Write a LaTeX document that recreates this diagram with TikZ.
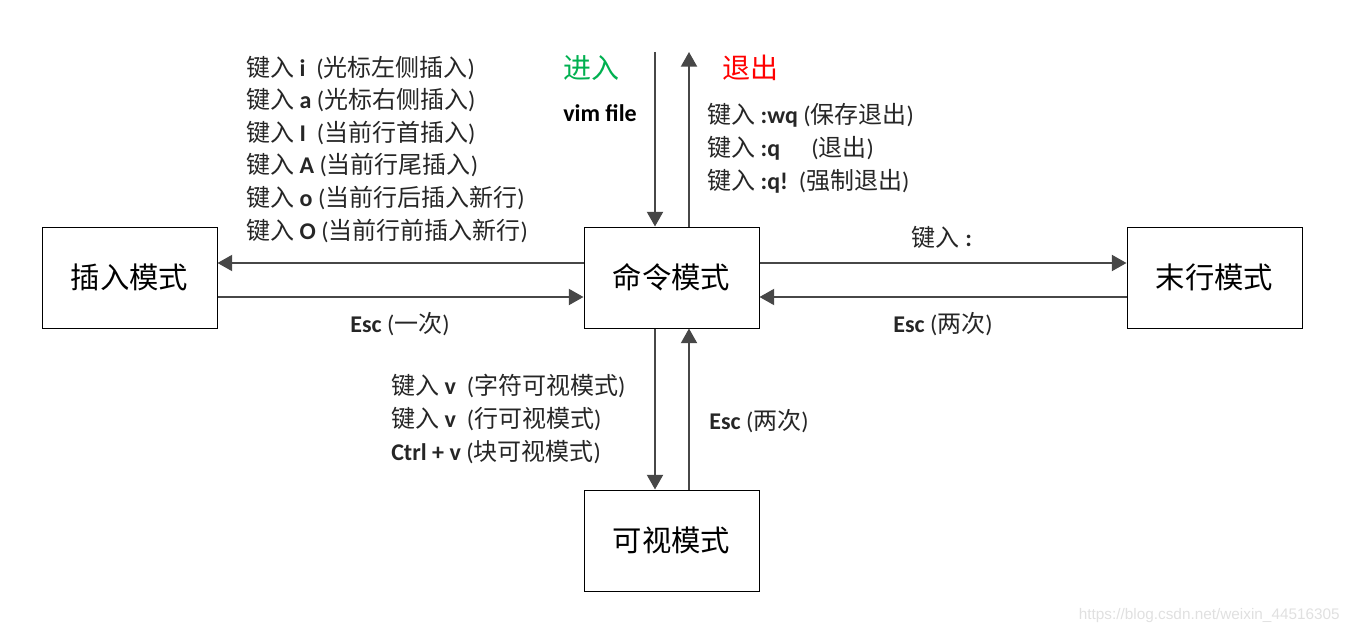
\documentclass[tikz,border=0pt]{standalone}
\usepackage{fontspec}
\setmainfont{Carlito}
\newfontfamily\cjk{Noto Sans CJK SC}
\newfontfamily\wmfont{Liberation Sans}
\usetikzlibrary{arrows.meta,calc}
\newcommand\zh[1]{{\cjk #1}}
\definecolor{arrowgray}{HTML}{474747}
\definecolor{entergreen}{HTML}{00B050}
\definecolor{exitred}{HTML}{FF0000}
\begin{document}
\begin{tikzpicture}[x=0.75pt,y=-0.75pt,
  modebox/.style={draw=black,line width=0.75pt,minimum width=131.25pt,minimum height=75.75pt,inner sep=0pt,font=\fontsize{22}{26}\selectfont\cjk},
  conn/.style={draw=arrowgray,line width=1.5pt,-{Triangle[length=11pt,width=12pt]}},
  lbl/.style={font=\fontsize{18}{22}\selectfont,inner sep=0pt,anchor=west,text=black!85},
  clbl/.style={font=\fontsize{18}{22}\selectfont,inner sep=0pt,text=black!85},
  big/.style={font=\fontsize{21}{24}\selectfont\cjk,inner sep=0pt},
]
\useasboundingbox (0,0) rectangle (1350,635);
% mode boxes
\node[modebox] (ins) at (129.5,277.5) {插入模式};
\node[modebox] (cmd) at (671.5,277.5) {命令模式};
\node[modebox] (last) at (1214.5,277.5) {末行模式};
\node[modebox] (vis) at (671.5,540.5) {可视模式};
% free ends of enter/exit
\coordinate (enterTop) at (655,52);
\coordinate (exitTop) at (689,52);
% connectors
\draw[conn] ($(cmd.west)+(0,-14.5)$) -- ($(ins.east)+(0,-14.5)$);
\draw[conn] ($(ins.east)+(0,19.5)$) -- ($(cmd.west)+(0,19.5)$);
\draw[conn] ($(cmd.east)+(0,-14.5)$) -- ($(last.west)+(0,-14.5)$);
\draw[conn] ($(last.west)+(0,19.5)$) -- ($(cmd.east)+(0,19.5)$);
\draw[conn] ($(cmd.south)+(-16.5,0)$) -- ($(vis.north)+(-16.5,0)$);
\draw[conn] ($(vis.north)+(17.5,0)$) -- ($(cmd.south)+(17.5,0)$);
\draw[conn] (enterTop) -- ($(cmd.north)+(-16.5,0)$);
\draw[conn] ($(cmd.north)+(17.5,0)$) -- (exitTop);
% insert labels
\node[lbl] (i1) at (246,68) {\zh{键入} \textbf{i}\ \ (\zh{光标左侧插入})};
\node[lbl] (i2) at (246,100) {\zh{键入} \textbf{a} (\zh{光标右侧插入})};
\node[lbl] (i3) at (246,133) {\zh{键入} \textbf{I}\ \ (\zh{当前行首插入})};
\node[lbl] (i4) at (246,165) {\zh{键入} \textbf{A} (\zh{当前行尾插入})};
\node[lbl] (i5) at (246,198) {\zh{键入} \textbf{o} (\zh{当前行后插入新行})};
\node[lbl] (i6) at (246,231) {\zh{键入} \textbf{O} (\zh{当前行前插入新行})};
% enter / exit
\node[big,text=entergreen] (enter) at (591,68) {进入};
\node[clbl,font=\fontsize{18}{22}\selectfont\bfseries,text=black] (vimfile) at (600,113) {vim file};
\node[big,text=exitred] (exit) at (750,68) {退出};
\node[lbl] (q1) at (707,115) {\zh{键入} \textbf{:wq} (\zh{保存退出})};
\node[lbl] (q2) at (707,148) {\zh{键入} \textbf{:q}\hspace{1.3em}(\zh{退出})};
\node[lbl] (q3) at (707,181) {\zh{键入} \textbf{:q!}\ \ (\zh{强制退出})};
% horizontal labels
\node[clbl] (colon) at (942,237) {\zh{键入} \textbf{:}};
\node[clbl] (esc1) at (400,324) {\textbf{Esc} (\zh{一次})};
\node[clbl] (esc2) at (943,324) {\textbf{Esc} (\zh{两次})};
% visual labels
\node[lbl] (v1) at (391,386) {\zh{键入} \textbf{v}\ \ (\zh{字符可视模式})};
\node[lbl] (v2) at (391,419) {\zh{键入} \textbf{v}\ \ (\zh{行可视模式})};
\node[lbl] (v3) at (391,452) {\textbf{Ctrl + v} (\zh{块可视模式})};
\node[clbl] (esc3) at (759,421) {\textbf{Esc} (\zh{两次})};
% watermark
\node[inner sep=0pt,anchor=east,font=\wmfont\fontsize{11.5}{13}\selectfont,text=black!12] (wm) at (1340,616) {https://blog.csdn.net/weixin\_44516305};
\end{tikzpicture}
\end{document}
